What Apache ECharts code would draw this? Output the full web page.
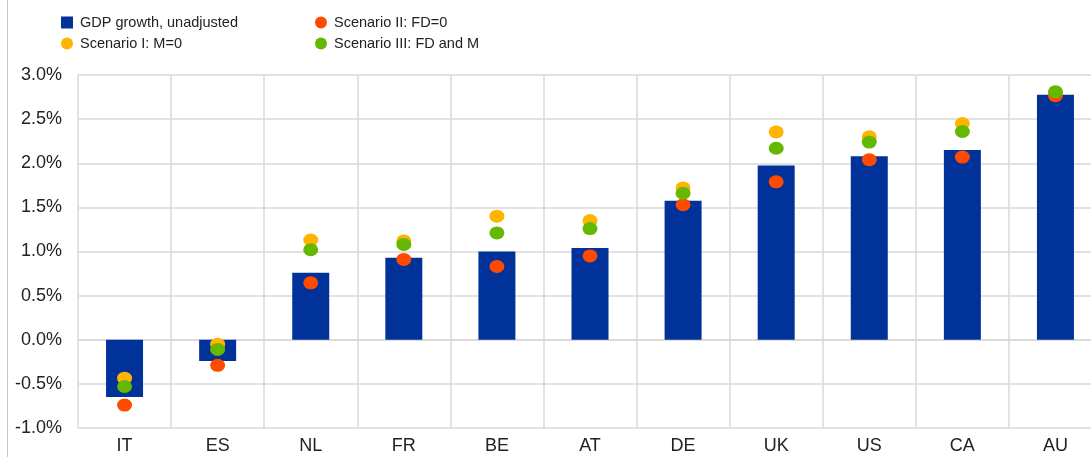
<!DOCTYPE html>
<html>
<head>
<meta charset="utf-8">
<script src="https://cdn.jsdelivr.net/npm/echarts@6/dist/echarts.min.js"></script>
<style>html,body{margin:0;padding:0;background:#fff;overflow:hidden;width:1091px;height:457px}#c{width:1102px;height:457px}</style>
</head>
<body>
<div id="c"></div>
<script>
const categories = ['IT','ES','NL','FR','BE','AT','DE','UK','US','CA','AU'];
const gdp        = [-0.65,-0.24,0.76,0.93,1.00,1.04,1.575,1.975,2.08,2.15,2.775];
const scenario1  = [-0.435,-0.05,1.13,1.12,1.40,1.35,1.72,2.355,2.30,2.45,2.80];
const scenario2  = [-0.74,-0.29,0.645,0.91,0.83,0.95,1.53,1.79,2.04,2.07,2.765];
const scenario3  = [-0.53,-0.11,1.02,1.08,1.21,1.26,1.66,2.17,2.24,2.36,2.81];
const yTicks = { min: -1, max: 3, interval: 0.5 };

const font = 'Liberation Sans, Arial, sans-serif';
const chart = echarts.init(document.getElementById('c'), null, {renderer:'canvas'});
const dot = (name, data, color) => ({
  name, type:'scatter', data, symbol:'circle', symbolSize:[15,13],
  itemStyle:{color, opacity:1}, z:3
});
const legendText = {fontSize:14.5, color:'#222', fontFamily:font, padding:[0,0,0,2]};
chart.setOption({
  animation:false,
  textStyle:{fontFamily:font},
  graphic:[{type:'line', shape:{x1:7.5,y1:0,x2:7.5,y2:457}, style:{stroke:'#c8c8c8', lineWidth:1}}],
  legend:[
    {orient:'vertical', left:56, top:10, itemWidth:12, itemHeight:12, itemGap:6,
     textStyle:legendText,
     data:[{name:'GDP growth, unadjusted', icon:'rect'},{name:'Scenario I: M=0', icon:'circle'}]},
    {orient:'vertical', left:310, top:10, itemWidth:12, itemHeight:12, itemGap:6,
     textStyle:legendText,
     data:[{name:'Scenario II: FD=0', icon:'circle'},{name:'Scenario III: FD and M', icon:'circle'}]}
  ],
  grid:{left:78, right:0, top:75, bottom:29, containLabel:false},
  xAxis:{type:'category', data:categories,
    axisLine:{show:true, lineStyle:{color:'#d9d9d9', width:1.5}},
    axisTick:{show:false},
    axisLabel:{fontSize:18, color:'#222', margin:9, fontFamily:font},
    splitLine:{show:true, lineStyle:{color:'#d9d9d9', width:1.5}}},
  yAxis:{type:'value', min:yTicks.min, max:yTicks.max, interval:yTicks.interval,
    axisLine:{show:false}, axisTick:{show:false},
    axisLabel:{fontSize:18, color:'#222', margin:16, fontFamily:font,
      formatter:v=>v.toFixed(1)+'%'},
    splitLine:{show:true, lineStyle:{color:'#d9d9d9', width:1.5}}},
  series:[
    {name:'GDP growth, unadjusted', type:'bar', data:gdp, barWidth:37,
     itemStyle:{color:'#003299'}, z:2},
    dot('Scenario I: M=0', scenario1, '#FFB400'),
    dot('Scenario II: FD=0', scenario2, '#FF4B00'),
    dot('Scenario III: FD and M', scenario3, '#65B800')
  ]
});
</script>
</body>
</html>
